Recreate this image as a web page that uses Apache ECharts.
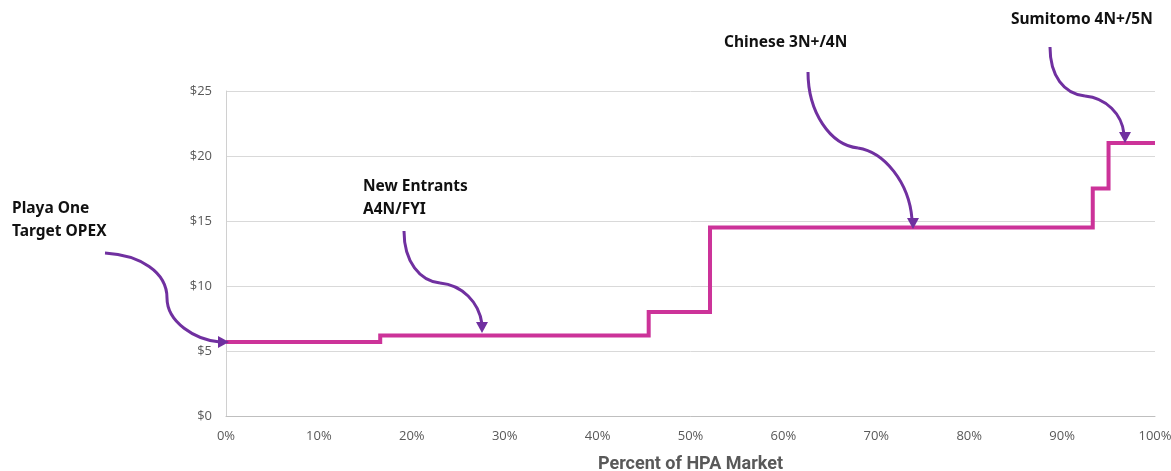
<!DOCTYPE html>
<html>
<head>
<meta charset="utf-8">
<script src="https://cdn.jsdelivr.net/npm/echarts@6/dist/echarts.min.js"></script>
<style>
  html, body { margin: 0; padding: 0; background: #fff; }
  #chart { width: 1171px; height: 471px; }
</style>
</head>
<body>
<div id="chart"></div>
<script>
// percent of market where each cost step starts, and its OPEX ($)
const marketPct = [0, 16.6, 45.5, 52.1, 93.3, 95.0, 100];
const opexValues = [5.7, 6.2, 8.0, 14.5, 17.5, 21.0, 21.0];
const xTicks = [0, 10, 20, 30, 40, 50, 60, 70, 80, 90, 100];
const yTicks = [0, 5, 10, 15, 20, 25];

const chart = echarts.init(document.getElementById('chart'));

const labelFont = { fontFamily: 'Noto Sans', fontWeight: 'bold', fontSize: 15.5, fill: '#111' };
const arrowColor = '#7030a0';

// curved annotation arrow: two cubic segments [x1,y1,cx1,cy1,cx2,cy2,x2,y2] + head
function arrow(segs, tip, dir) {
  const s = 6;
  let pts;
  if (dir === 'down') pts = [[tip[0], tip[1]], [tip[0] - s, tip[1] - 11], [tip[0] + s, tip[1] - 11]];
  else pts = [[tip[0], tip[1]], [tip[0] - 11, tip[1] - s], [tip[0] - 11, tip[1] + s]];
  const out = segs.map(c => ({
    type: 'bezierCurve',
    shape: { x1: c[0], y1: c[1], cpx1: c[2], cpy1: c[3], cpx2: c[4], cpy2: c[5], x2: c[6], y2: c[7] },
    style: { stroke: arrowColor, lineWidth: 3, fill: null },
    z: 10
  }));
  out.push({ type: 'polygon', shape: { points: pts }, style: { fill: arrowColor }, z: 10 });
  return out;
}

const graphics = [
  { type: 'text', x: 12, y: 197, style: Object.assign({ text: 'Playa One\nTarget OPEX', lineHeight: 23 }, labelFont) },
  { type: 'text', x: 363, y: 175, style: Object.assign({ text: 'New Entrants\nA4N/FYI', lineHeight: 23 }, labelFont) },
  { type: 'text', x: 724, y: 35, style: Object.assign({ text: 'Chinese 3N+/4N' }, labelFont) },
  { type: 'text', x: 1011, y: 12, style: Object.assign({ text: 'Sumitomo 4N+/5N' }, labelFont) }
].concat(
  arrow([[105, 253, 140, 255, 167, 272, 167, 298], [167, 298, 167, 322, 195, 340, 220, 342]], [229, 342], 'right'),
  arrow([[404, 231, 404, 262, 420, 281, 440, 283], [440, 283, 462, 285, 479, 302, 482, 324]], [482, 333], 'down'),
  arrow([[808, 72, 808, 112, 830, 145, 858, 148], [858, 148, 884, 152, 909, 182, 912, 219]], [913, 229], 'down'),
  arrow([[1050, 47, 1050, 76, 1064, 94, 1085, 96], [1085, 96, 1106, 98, 1122, 114, 1124, 134]], [1125, 143], 'down')
);

chart.setOption({
  animation: false,
  grid: { left: 226, right: 16, top: 91, bottom: 55, outerBoundsMode: 'none' },
  xAxis: {
    type: 'value',
    min: 0,
    max: 100,
    interval: 10,
    name: 'Percent of HPA Market',
    nameLocation: 'middle',
    nameGap: 39,
    nameTextStyle: { color: '#595959', fontSize: 18, fontWeight: 'bold', fontFamily: 'Roboto' },
    axisLine: { show: true, lineStyle: { color: '#bfbfbf', width: 1 } },
    axisTick: { show: false },
    splitLine: { show: false },
    axisLabel: { color: '#595959', fontSize: 13, fontFamily: 'Open Sans', margin: 14,
      formatter: v => xTicks.includes(v) ? v + '%' : '' }
  },
  yAxis: {
    type: 'value',
    min: 0,
    max: 25,
    interval: 5,
    axisLine: { show: true, lineStyle: { color: '#d0d0d0', width: 1 } },
    axisTick: { show: false },
    splitLine: { show: true, lineStyle: { color: '#d9d9d9', width: 1 } },
    axisLabel: { color: '#595959', fontSize: 13, fontFamily: 'Open Sans', margin: 14,
      formatter: v => yTicks.includes(v) ? '$' + v : '' }
  },
  series: [{
    type: 'line',
    step: 'end',
    data: marketPct.map((x, i) => [x, opexValues[i]]),
    showSymbol: false,
    lineStyle: { color: '#cc3399', width: 4, join: 'miter' },
    z: 3
  }],
  graphic: graphics
});
</script>
</body>
</html>
